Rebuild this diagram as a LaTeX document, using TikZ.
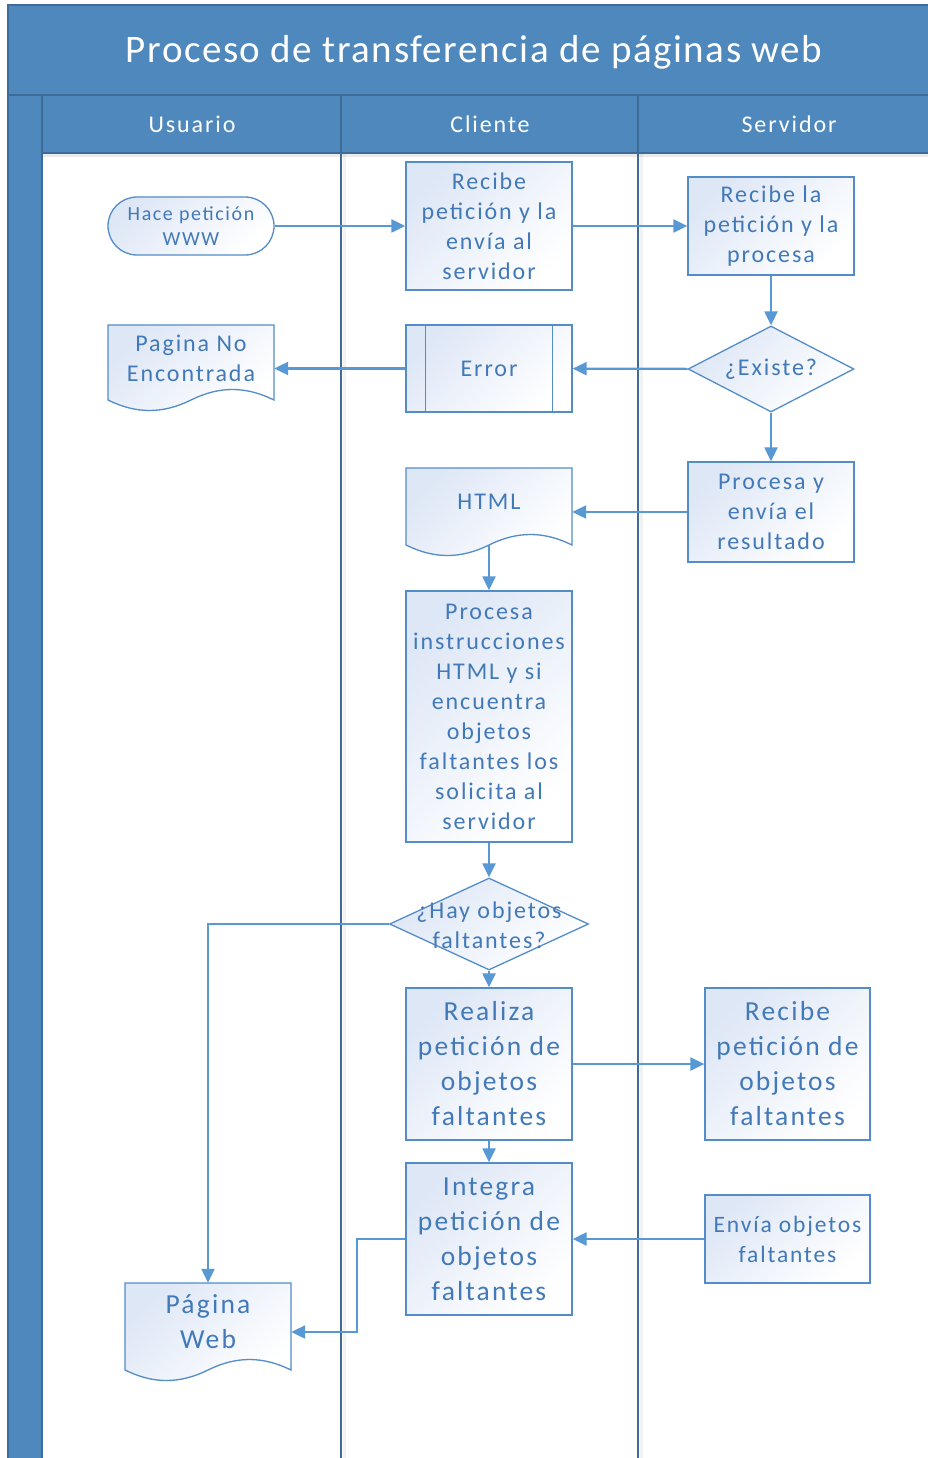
\documentclass[tikz,border=0pt]{standalone}
\usepackage{fontspec}
\setmainfont{Carlito}[LetterSpace=8]
\newfontfamily\titlefont{Carlito}[LetterSpace=4]
\usetikzlibrary{shapes.geometric,arrows.meta}
\definecolor{hdr}{RGB}{79,136,189}
\definecolor{hdrline}{RGB}{62,108,152}
\definecolor{boxline}{RGB}{84,140,200}
\definecolor{boxlight}{RGB}{222,231,246}
\definecolor{txt}{RGB}{66,121,184}
\definecolor{arrc}{RGB}{88,152,212}
\newcommand{\fsnorm}{\fontsize{24}{30}\selectfont}
\newcommand{\fsbig}{\fontsize{27.5}{35}\selectfont}
\newcommand{\fssmall}{\fontsize{20}{25}\selectfont}
\newcommand{\fsmid}{\fontsize{23.5}{30}\selectfont}
\tikzset{
  boxfill/.style={top color=boxlight, bottom color=white, shading angle=45},
  proc/.style={draw=boxline, line width=1.3pt, boxfill, minimum width=166pt, inner sep=0pt, align=center, text=txt, font=\fsnorm},
  docnode/.style={draw=none, minimum width=166pt, inner sep=0pt, align=center, text=txt, font=\fsnorm},
  diam/.style={diamond, draw=boxline, line width=1.3pt, boxfill, aspect=2, inner sep=0pt},
  plaintxt/.style={inner sep=0pt, align=center, text=txt, font=\fsnorm},
  docpath/.style={draw=boxline, line width=1.3pt, boxfill},
  arr/.style={draw=arrc, line width=2.2pt, -{Triangle[length=14pt,width=13pt]}},
  lane/.style={draw=hdrline, line width=1.8pt},
  hdrtxt/.style={text=white, font=\fontsize{24}{28}\selectfont}
}
% document shape: x0, ytop, x1, ybottom(sides)
\newcommand{\docshape}[4]{%
  \path[docpath] (#1,#2) -- (#3,#2) -- (#3,#4)
    .. controls ({#1+0.83*(#3-#1)},{#4-14}) and ({#1+0.67*(#3-#1)},{#4-14}) .. ({#1+0.5*(#3-#1)},#4)
    .. controls ({#1+0.33*(#3-#1)},{#4+14}) and ({#1+0.17*(#3-#1)},{#4+14}) .. (#1,#4) -- cycle;}
\begin{document}
\begin{tikzpicture}[x=1pt,y=-1pt]
\useasboundingbox (0,0) rectangle (928,1458);
% frame
\fill[white] (0,0) rectangle (928,1458);
\fill[hdr] (8,5) rectangle (940,95);
\fill[hdr] (8,95) rectangle (940,153);
\fill[hdr] (8,95) rectangle (42,1458);
\fill[black,opacity=0.08] (43,153) rectangle (940,157);
\fill[black,opacity=0.05] (343,153) rectangle (346,1458);
\fill[black,opacity=0.05] (640,153) rectangle (643,1458);
\draw[hdrline, line width=1.2pt] (8,1458) -- (8,5) -- (940,5);
\draw[hdrline, line width=1.2pt] (8,95) -- (940,95);
\draw[hdrline, line width=1.2pt] (42,153) -- (940,153);
\draw[lane] (42,95) -- (42,1458);
\draw[lane] (341,95) -- (341,1458);
\draw[lane] (638,95) -- (638,1458);
\node[text=white, font=\titlefont\fontsize{39}{44}\selectfont] (title) at (474,52) {Proceso de transferencia de páginas web};
\node[hdrtxt] (h1) at (192,124) {Usuario};
\node[hdrtxt] (h2) at (490,124) {Cliente};
\node[hdrtxt] (h3) at (789,124) {Servidor};

% nodes
\node[proc, minimum height=58pt, rounded corners=29pt, font=\fssmall] (n1) at (191,226) {Hace petición\\WWW};
\node[proc, minimum height=128pt] (n2) at (489,226) {Recibe\\petición y la\\envía al\\servidor};
\node[proc, minimum height=98pt] (n3) at (771,226) {Recibe la\\petición y la\\procesa};
\node[diam, minimum width=166pt, minimum height=86pt] (d1) at (771,369) {};
\node[plaintxt] (d1t) at (d1.center) {¿Existe?};
\node[proc, minimum height=87pt] (err) at (489,368.5) {Error};
\draw[draw=boxline, line width=1.3pt] ([xshift=20pt]err.north west) -- ([xshift=20pt]err.south west);
\draw[draw=boxline, line width=1.3pt] ([xshift=-20pt]err.north east) -- ([xshift=-20pt]err.south east);
\docshape{108}{325}{274}{400}
\node[docnode, minimum height=66pt] (pnf) at (191,358) {Pagina No\\Encontrada};
\node[proc, minimum height=100pt] (n7) at (771,512) {Procesa y\\envía el\\resultado};
\docshape{406}{468}{572}{545}
\node[docnode, minimum height=86pt] (html) at (489,502) {HTML};
\node[proc, minimum height=251pt] (n9) at (489,716.5) {Procesa\\instrucciones\\HTML y si\\encuentra\\objetos\\faltantes los\\solicita al\\servidor};
\node[diam, minimum width=199pt, minimum height=92pt] (d2) at (489,924) {};
\node[plaintxt] (d2t) at (489,925) {¿Hay objetos\\faltantes?};
\node[proc, minimum height=152pt, font=\fsbig] (n11) at (489,1064) {Realiza\\petición de\\objetos\\faltantes};
\node[proc, minimum width=165pt, minimum height=152pt, font=\fsbig] (n12) at (787.5,1064) {Recibe\\petición de\\objetos\\faltantes};
\node[proc, minimum height=152pt, font=\fsbig] (n13) at (489,1239) {Integra\\petición de\\objetos\\faltantes};
\node[proc, minimum width=165pt, minimum height=88pt, font=\fsmid] (n14) at (787.5,1239) {Envía objetos\\faltantes};
\docshape{125}{1283}{291}{1370}
\node[docnode, minimum height=77pt, font=\fsbig] (pw) at (208,1321.5) {Página\\Web};
\coordinate (bend) at (357,1332);

% connectors
\draw[arr] (n1) -- (n2);
\draw[arr] (n2) -- (n3);
\draw[arr] (n3) -- (d1);
\draw[arr] (d1) -- (err);
\draw[arr] (err.west) -- (err.west -| pnf.east);
\draw[arr] (d1) -- (n7);
\draw[arr] (n7.west) -- (n7.west -| html.east);
\draw[arr] (html.south) -- (n9.north);
\draw[arr] (n9) -- (d2);
\draw[arr] (d2.west) -| (pw.north);
\draw[arr] (d2.south) -- (n11.north);
\draw[arr] (n11) -- (n12);
\draw[arr] (n11) -- (n13);
\draw[arr] (n14) -- (n13);
\draw[arr] (n13.west) -| (bend) -- (bend -| pw.east);
\end{tikzpicture}
\end{document}
